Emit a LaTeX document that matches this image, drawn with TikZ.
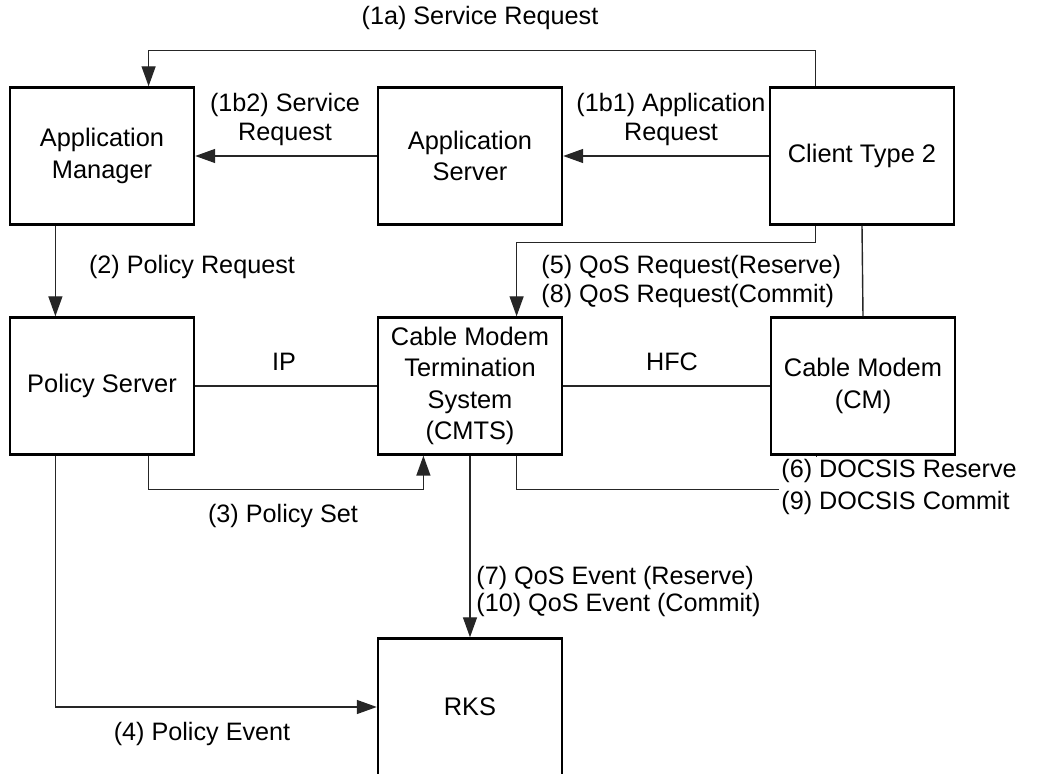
\documentclass[tikz,border=0pt]{standalone}
\usepackage{fontspec}
\setmainfont{Liberation Sans}
\usetikzlibrary{arrows.meta,calc}
\begin{document}
\begin{tikzpicture}[x=0.5pt,y=-0.5pt,
  box/.style={draw, line width=1.2pt, minimum width=92pt, minimum height=68.5pt, align=center, inner sep=0pt, font=\fontsize{12.7}{15.75}\selectfont},
  lbl/.style={inner sep=1pt, font=\fontsize{12.6}{14.5}\selectfont},
  con/.style={line width=0.7pt, draw=black!85},
  arr/.style={con, -{Triangle[length=10pt,width=7pt]}}]
\useasboundingbox (0,0) rectangle (1044,774);
\node[box] (am) at (102,156) {Application\\Manager};
\node[box] (as) at (470,156) {Application\\Server};
\node[box] (ct) at (862,156) {Client Type 2};
\node[box] (ps) at (102,386) {Policy Server};
\node[box] (cmts) at (470,386) {Cable Modem\\Termination\\System\\(CMTS)};
\node[box] (cm) at (863,386) {Cable Modem\\(CM)};
\node[box] (rks) at (470,707) {RKS};
\draw[arr] ($(ct.north west)!.25!(ct.north east)$) -- ++(0,-36) -| ($(am.north west)!.75!(am.north east)$);
\draw[arr] (ct.west) -- (as.east);
\draw[arr] (as.west) -- (am.east);
\draw[arr] ($(am.south west)!.25!(am.south east)$) -- ($(ps.north west)!.25!(ps.north east)$);
\draw[arr] ($(ct.south west)!.25!(ct.south east)$) -- ++(0,17) -| ($(cmts.north west)!.75!(cmts.north east)$);
\draw[con] (ct.south) -- (cm.north);
\draw[con] (ps.east) -- (cmts.west);
\draw[con] (cmts.east) -- (cm.west);
\draw[arr] ($(ps.south west)!.75!(ps.south east)$) -- ++(0,34) -| ($(cmts.south west)!.25!(cmts.south east)$);
\draw[con] ($(cmts.south west)!.75!(cmts.south east)$) -- ++(0,34) -| ($(cm.south west)!.25!(cm.south east)$);
\draw[arr] (cmts.south) -- (rks.north);
\draw[arr] ($(ps.south west)!.25!(ps.south east)$) |- (rks.west);
\node[lbl] (l1a) at (480,18) {(1a) Service Request};
\node[lbl, align=center] (l1b2) at (285,119) {(1b2) Service\\Request};
\node[lbl, align=center] (l1b1) at (671,119) {(1b1) Application\\Request};
\node[lbl] (l2) at (192,267) {(2) Policy Request};
\node[lbl, align=left, anchor=west] (l5) at (539,281) {(5) QoS Request(Reserve)\\(8) QoS Request(Commit)};
\node[lbl] (lip) at (284,362) {IP};
\node[lbl] (lhfc) at (672,362) {HFC};
\node[lbl] (l3) at (283,516) {(3) Policy Set};
\node[lbl, align=left, anchor=west, fill=white, font=\fontsize{12.6}{16}\selectfont] (l6) at (779,487) {(6) DOCSIS Reserve\\(9) DOCSIS Commit};
\node[lbl, align=left, anchor=west, font=\fontsize{12.6}{13.5}\selectfont] (l7) at (474,591) {(7) QoS Event (Reserve)\\(10) QoS Event (Commit)};
\node[lbl] (l4) at (202,734) {(4) Policy Event};
\end{tikzpicture}
\end{document}
